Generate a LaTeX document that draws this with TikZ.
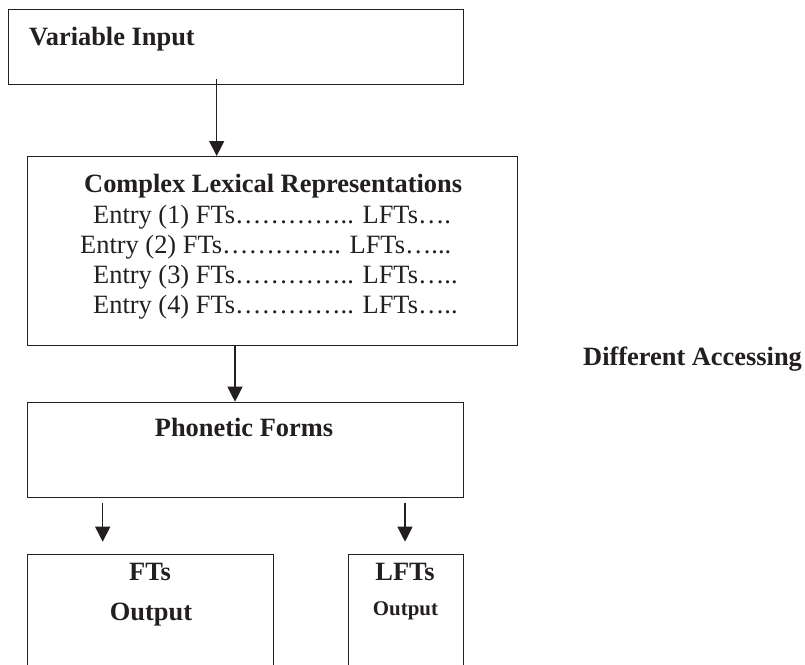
\documentclass[tikz,border=0pt]{standalone}
\usepackage{fontspec}
\setmainfont{Liberation Serif}
\usetikzlibrary{arrows.meta}
\definecolor{ink}{HTML}{231F20}
\tikzset{
  box/.style={draw=ink, line width=1.3pt, rectangle, inner sep=0pt, anchor=north west},
  flow/.style={draw=ink, line width=1.1pt, -{Triangle[width=15pt,length=15pt]}},
  txt/.style={text=ink, inner sep=0pt, font=\fontsize{26.4}{30}\selectfont},
  hd/.style={text=ink, inner sep=0pt, font=\fontsize{26.4}{30}\selectfont\bfseries},
  hdsmall/.style={text=ink, inner sep=0pt, font=\fontsize{20.9}{24}\selectfont\bfseries},
}
\begin{document}
\begin{tikzpicture}[x=1pt, y=-1pt]
\clip (0,0) rectangle (805,664);
\fill[white] (0,0) rectangle (805,664);

% boxes
\node[box, minimum width=455pt, minimum height=75pt] (input) at (7.5,9) {};
\node[box, minimum width=490pt, minimum height=189pt] (lex) at (27,156) {};
\node[box, minimum width=435.7pt, minimum height=95pt] (phon) at (27,401.7) {};
\node[box, minimum width=246pt, minimum height=140pt] (fts) at (27,554) {};
\node[box, minimum width=114.7pt, minimum height=140pt] (lfts) at (348,554) {};

% texts
\node[hd, anchor=base west] (tinput) at (29,45) {Variable Input};
\node[hd, anchor=base west] (tlex) at (84,192) {Complex Lexical Representations};
\node[txt, anchor=base west] (e1) at (93,223) {Entry (1) FTs………….. LFTs….};
\node[txt, anchor=base west] (e2) at (80,253) {Entry (2) FTs………….. LFTs…...};
\node[txt, anchor=base west] (e3) at (93,283) {Entry (3) FTs………….. LFTs…..};
\node[txt, anchor=base west] (e4) at (93,313) {Entry (4) FTs………….. LFTs…..};
\node[hd, anchor=base] (tphon) at (244,436.7) {Phonetic Forms};
\node[hd, anchor=base] (tfts) at (150,580) {FTs};
\node[hd, anchor=base] (tftso) at (151,620) {Output};
\node[hd, anchor=base] (tlfts) at (405,580) {LFTs};
\node[hdsmall, anchor=base] (tlftso) at (405.5,615) {Output};
\node[hd, anchor=base west] (tacc) at (583,365) {Different Accessing};

% connectors
\coordinate (s1) at (216.7,79);
\coordinate (s2) at (235,345);
\coordinate (s3) at (102.7,503);
\coordinate (e3) at (102.7,541.7);
\coordinate (s4) at (405,503);
\coordinate (e4) at (405,541.7);
\draw[flow] (s1) -- (s1 |- lex.north);
\draw[flow] (s2 |- lex.south) -- (s2 |- phon.north);
\draw[flow] (s3) -- (e3);
\draw[flow] (s4) -- (e4);
\end{tikzpicture}
\end{document}
